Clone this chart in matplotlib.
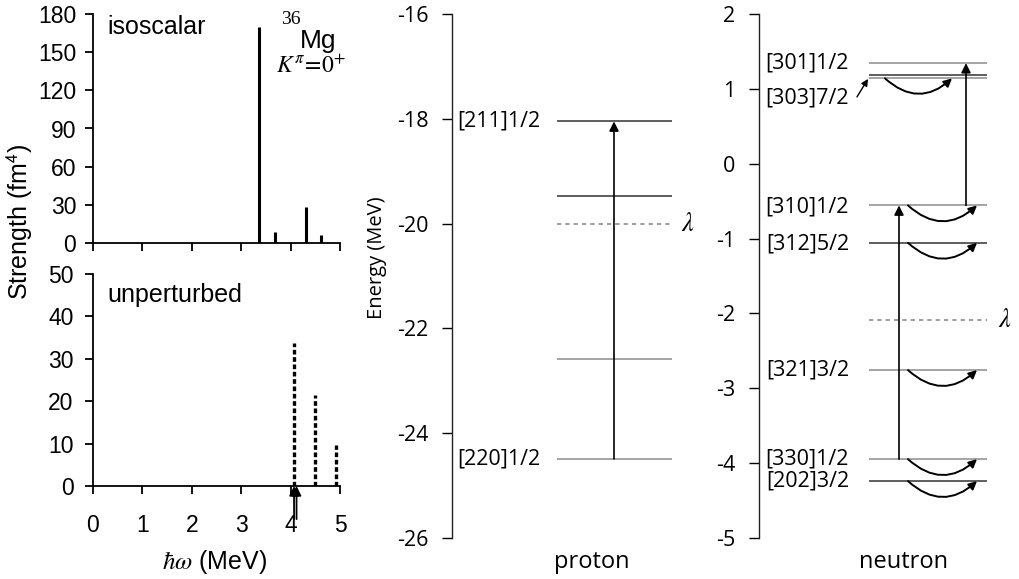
import matplotlib
matplotlib.use("Agg")
import matplotlib.pyplot as plt

plt.rcParams['mathtext.fontset'] = 'stix'
plt.rcParams['axes.unicode_minus'] = False

W, H = 1020, 579

# isoscalar strength (fm^4) vs hbar*omega (MeV)
iso_energy = [3.365, 3.68, 4.32, 4.61]
iso_strength = [170, 9, 28, 6]

# unperturbed two-quasiparticle strength
unp_energy = [4.07, 4.49, 4.92]
unp_strength = [33.7, 21.5, 9.7]
unp_arrows = [4.07, 4.12]

# proton single-particle levels (MeV)
p_levels = [-18.05, -19.47, -22.58, -24.49]
p_colors = ['#333333', '#333333', '#8c8c8c', '#8c8c8c']
p_labels = ['[211]1/2', '', '', '[220]1/2']
p_lambda = -20.0
p_transition = (-24.49, -18.05)

# neutron single-particle levels (MeV)
n_levels = [1.344, 1.184, 1.14, -0.557, -1.057, -2.757, -3.947, -4.24]
n_colors = ['#8c8c8c', '#333333', '#8c8c8c', '#8c8c8c', '#333333',
            '#8c8c8c', '#8c8c8c', '#333333']
n_label_text = ['[301]1/2', '[303]7/2', '[310]1/2', '[312]5/2',
                '[321]3/2', '[330]1/2', '[202]3/2']
n_label_y = [1.35, 0.88, -0.58, -1.07, -2.76, -3.95, -4.24]
n_lambda = -2.09
n_transitions = [(-3.947, -0.557), (-0.557, 1.344)]
n_curved = [-0.557, -1.057, -2.757, -3.947, -4.24]
n_curved_top = 1.14

SANS = 'Liberation Sans'
MYR = 'Open Sans'


def px_axes(x0, y0, x1, y1):
    return fig.add_axes([x0 / W, 1 - y1 / H, (x1 - x0) / W, (y1 - y0) / H])


def ftext(x, y, s, **kw):
    fig.text(x / W, 1 - y / H, s, **kw)


fig = plt.figure(figsize=(W / 100, H / 100), dpi=100)

# ---- left: strength panels
ax1 = px_axes(93, 14, 340, 243)
ax2 = px_axes(93, 274, 340, 486)
for ax in (ax1, ax2):
    for s in ('top', 'right'):
        ax.spines[s].set_visible(False)
    for s in ('left', 'bottom'):
        ax.spines[s].set_linewidth(1.3)
    ax.set_xlim(0, 5)
    ax.set_xticks(range(6))
    ax.tick_params(direction='out', length=6, width=1.3, labelsize=16.5)
ax1.set_ylim(0, 180)
ax1.set_yticks(range(0, 181, 30))
ax1.set_xticklabels([])
ax1.tick_params(axis='y', pad=6)
ax2.set_ylim(0, 50)
ax2.set_yticks(range(0, 51, 10))
ax2.tick_params(axis='y', pad=8)
ax2.tick_params(axis='x', pad=14)
for ax in (ax1, ax2):
    for lab in ax.get_xticklabels() + ax.get_yticklabels():
        lab.set_fontfamily(SANS)

ax1.vlines(iso_energy, 0, iso_strength, color='black', lw=2.2)
ax2.vlines(unp_energy, 0, unp_strength, color='black', lw=2.4,
           linestyles=(0, (1.4, 0.8)))
for xa in unp_arrows:
    ax2.annotate('', xy=(xa, 0), xytext=(xa, -7.8),
                 arrowprops=dict(arrowstyle='-|>', color='black', lw=1.3,
                                 mutation_scale=14, shrinkA=0, shrinkB=0),
                 annotation_clip=False)

ax1.text(0.3, 170, 'isoscalar', fontsize=18, family=SANS, va='center')
ax2.text(0.3, 45, 'unperturbed', fontsize=18, family=SANS, va='center')
ftext(291, 19, '36', fontsize=14, family='Liberation Serif', ha='center', va='center')
ftext(318, 41, 'Mg', fontsize=19, family=SANS, ha='center', va='center')
ftext(311, 66, r'$K^{\pi}\!=\!0^{+}$', fontsize=17, ha='center', va='center')
ftext(20, 222, r'Strength (fm$^{\mathsf{4}}$)', fontsize=18, family=SANS,
      rotation=90, ha='center', va='center')
ftext(215, 562, r'$\hbar\omega$ (MeV)', fontsize=18, family=SANS,
      ha='center', va='center')

# ---- middle: proton levels
axp = px_axes(452, 14, 720, 538)
axp.set_xlim(452, 720)
axp.set_ylim(-26, -16)
for s in ('top', 'right', 'bottom'):
    axp.spines[s].set_visible(False)
axp.spines['left'].set_linewidth(1.0)
axp.spines['left'].set_color('#222222')
axp.set_xticks([])
axp.set_yticks(range(-26, -15, 2))
axp.tick_params(axis='y', direction='out', length=7, width=1.0, pad=10,
                labelsize=15.5)
for lab in axp.get_yticklabels():
    lab.set_fontfamily(MYR)
ftext(377, 258, 'Energy (MeV)', fontsize=14.5, family=MYR, rotation=90,
      ha='center', va='center')

axp.hlines(p_levels, 557, 672, colors=p_colors, lw=1.1)
axp.hlines(p_lambda, 557, 672, colors='#8c8c8c', lw=1.2,
           linestyles=(0, (2.5, 2.5)))
for y, lab in zip(p_levels, p_labels):
    if lab:
        axp.text(540, y, lab, fontsize=15.5, family=MYR, ha='right', va='center')
axp.text(688, p_lambda, r'$\lambda$', fontsize=19, ha='center', va='center')
axp.annotate('', xy=(614, p_transition[1]), xytext=(614, p_transition[0]),
             arrowprops=dict(arrowstyle='-|>', color='black', lw=1.2,
                             mutation_scale=14, shrinkA=0, shrinkB=0))
ftext(592, 562, 'proton', fontsize=17, family=MYR, ha='center', va='center')

# ---- right: neutron levels
axn = px_axes(759, 14, 1020, 538)
axn.set_xlim(759, 1020)
axn.set_ylim(-5, 2)
for s in ('top', 'right', 'bottom'):
    axn.spines[s].set_visible(False)
axn.spines['left'].set_linewidth(1.0)
axn.spines['left'].set_color('#222222')
axn.set_xticks([])
axn.set_yticks(range(-5, 3))
axn.tick_params(axis='y', direction='out', length=7, width=1.0, pad=10,
                labelsize=15.5)
for lab in axn.get_yticklabels():
    lab.set_fontfamily(MYR)

axn.hlines(n_levels, 869, 987, colors=n_colors, lw=1.1)
axn.hlines(n_lambda, 869, 987, colors='#8c8c8c', lw=1.2,
           linestyles=(0, (2.5, 2.5)))
for y, lab in zip(n_label_y, n_label_text):
    axn.text(849, y, lab, fontsize=15.5, family=MYR, ha='right', va='center')
axn.text(1005, n_lambda, r'$\lambda$', fontsize=19, ha='center', va='center')

for y0, y1 in n_transitions:
    xa = 899 if y0 < -1 else 966
    axn.annotate('', xy=(xa, y1), xytext=(xa, y0),
                 arrowprops=dict(arrowstyle='-|>', color='black', lw=1.2,
                                 mutation_scale=14, shrinkA=0, shrinkB=0))

curve_props = dict(arrowstyle='-|>', color='black', lw=1.4, mutation_scale=12,
                   shrinkA=0, shrinkB=0, connectionstyle='arc3,rad=0.45')
for y in n_curved:
    axn.annotate('', xy=(977, y), xytext=(908, y), arrowprops=curve_props)
axn.annotate('', xy=(952, n_curved_top), xytext=(885, n_curved_top),
             arrowprops=curve_props)
axn.annotate('', xy=(868, 1.133), xytext=(857, 0.893),
             arrowprops=dict(arrowstyle='-|>', color='black', lw=1.0,
                             mutation_scale=10, shrinkA=0, shrinkB=0))
ftext(904, 562, 'neutron', fontsize=17, family=MYR, ha='center', va='center')

fig.savefig('out.png', dpi=100)
